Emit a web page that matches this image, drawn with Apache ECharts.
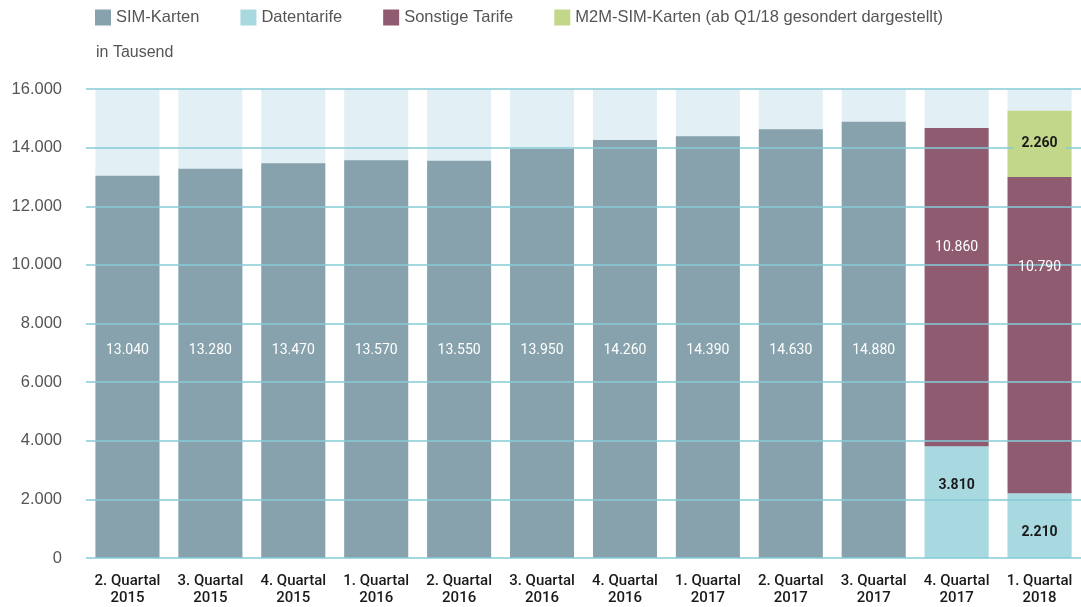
<!DOCTYPE html>
<html><head><meta charset="utf-8">
<script src="https://cdn.jsdelivr.net/npm/echarts@6/dist/echarts.min.js"></script>
<style>html,body{margin:0;padding:0;background:#fff;overflow:hidden;}#c{width:1081px;height:607px;}</style>
</head><body><div id="c"></div>
<script>
const categories = ['2. Quartal\n2015','3. Quartal\n2015','4. Quartal\n2015','1. Quartal\n2016','2. Quartal\n2016','3. Quartal\n2016','4. Quartal\n2016','1. Quartal\n2017','2. Quartal\n2017','3. Quartal\n2017','4. Quartal\n2017','1. Quartal\n2018'];
const simKarten   = [13040,13280,13470,13570,13550,13950,14260,14390,14630,14880,null,null];
const datentarife = [null,null,null,null,null,null,null,null,null,null,3810,2210];
const sonstige    = [null,null,null,null,null,null,null,null,null,null,10860,10790];
const m2m         = [null,null,null,null,null,null,null,null,null,null,null,2260];
const seriesNames = ['SIM-Karten','Datentarife','Sonstige Tarife','M2M-SIM-Karten (ab Q1/18 gesondert dargestellt)'];
// label placement (style only)
const sonstigeLabelDist = [0,0,0,0,0,0,0,0,0,0,113,84];

const colors = ['#87a2ad','#a8d8e0','#8f5b70','#c3d78a'];
const cond = "Roboto,sans-serif";
const fmt = v => v == null ? '' : String(v).replace(/\B(?=(\d{3})+(?!\d))/g, '.');

const dataSets = [simKarten, datentarife, sonstige, m2m];
const series = [];
dataSets.forEach((d, i) => {
  const s = {
    name: seriesNames[i], type: 'bar', stack: 'main', data: d,
    barWidth: 64, barGap: '-100%', z: 2,
    itemStyle: { color: colors[i] },
    label: { show: false }
  };
  if (i === 0) { s.showBackground = true; s.backgroundStyle = { color: '#e2eff4' }; }
  series.push(s);
});
// label overlay series (drawn above grid lines)
const labelCfg = [
  { position: 'insideBottom', distance: 201, color: '#ffffff', fontWeight: 'normal' },
  { position: 'insideTop', distance: 32, color: '#1a1a1a', fontWeight: 'bold' },
  { position: 'insideTop', distance: 100, color: '#ffffff', fontWeight: 'normal' },
  { position: 'inside', distance: 0, color: '#1a1a1a', fontWeight: 'bold', backgroundColor: colors[3], padding: [3, 8] }
];
dataSets.forEach((d, i) => {
  const data = d.map((v, k) => {
    if (i === 2 && v != null) return { value: v, label: { distance: sonstigeLabelDist[k] } };
    return v;
  });
  series.push({
    name: '_lbl' + i, type: 'bar', stack: 'lbl', data: data,
    barWidth: 64, barGap: '-100%', z: 6, silent: true,
    itemStyle: { color: 'rgba(0,0,0,0)' },
    label: Object.assign({ show: true, fontFamily: cond, fontSize: 14,
      formatter: p => fmt(p.value) }, labelCfg[i])
  });
});

const chart = echarts.init(document.getElementById('c'), null, { renderer: 'canvas' });
chart.setOption({
  animation: false,
  color: colors,
  legend: {
    data: seriesNames, left: 90, top: 4, itemWidth: 16, itemHeight: 16, itemGap: 41,
    icon: 'rect', selectedMode: false,
    textStyle: { fontFamily: "'Liberation Sans',sans-serif", fontSize: 16.5, color: '#555' }
  },
  graphic: [{ type: 'text', left: 96, top: 45,
    style: { text: 'in Tausend', fontFamily: "'Liberation Sans',sans-serif", fontSize: 16, fill: '#555' } }],
  grid: { left: 86, right: -1, top: 89, bottom: 46 },
  xAxis: {
    type: 'category', data: categories,
    axisLine: { show: false }, axisTick: { show: false },
    axisLabel: { interval: 0, margin: 15, fontFamily: cond, fontSize: 15, lineHeight: 17, color: '#1a1a1a', fontWeight: 500 }
  },
  yAxis: {
    type: 'value', min: 0, max: 16000, interval: 2000, z: 3,
    axisLine: { show: false }, axisTick: { show: false },
    axisLabel: { margin: 24, fontFamily: "'Liberation Sans',sans-serif", fontSize: 16.5, color: '#555', formatter: v => fmt(v) },
    splitLine: { lineStyle: { color: '#86cbd7', width: 1.6 } }
  },
  series: series
});
</script>
</body></html>
